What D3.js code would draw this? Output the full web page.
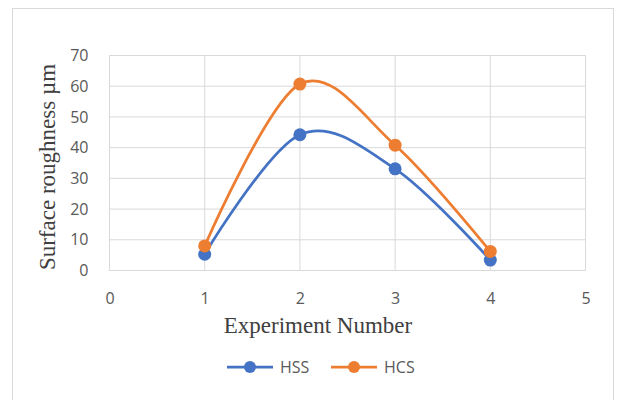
<!DOCTYPE html>
<html>
<head>
<meta charset="utf-8">
<script src="https://cdn.jsdelivr.net/npm/d3@7"></script>
<style>
  html, body { margin: 0; padding: 0; background: #fff; }
  svg { display: block; }
</style>
</head>
<body>
<svg id="chart" width="624" height="400"></svg>
<script>
// Experiment numbers and measured surface roughness (µm) per tool type
const experiments = [1, 2, 3, 4];
const hssValues = [5.3, 44.2, 33.1, 3.4];
const hcsValues = [8.0, 60.7, 40.8, 6.2];
const xTicks = [0, 1, 2, 3, 4, 5];
const yTicks = [0, 10, 20, 30, 40, 50, 60, 70];
const seriesNames = ["HSS", "HCS"];
const seriesColors = ["#4472C4", "#ED7D31"];

const svg = d3.select("#chart");

// Outer chart frame
svg.append("rect")
  .attr("x", 12.5).attr("y", 8.5)
  .attr("width", 601).attr("height", 400)
  .attr("fill", "#fff").attr("stroke", "#d9d9d9").attr("stroke-width", 1);

const x = d3.scaleLinear().domain([0, 5]).range([109.5, 585.5]);
const y = d3.scaleLinear().domain([0, 70]).range([270.5, 55.5]);

// Grid lines
const grid = svg.append("g");
grid.selectAll(".vg").data(xTicks).join("line")
  .attr("x1", d => x(d)).attr("x2", d => x(d))
  .attr("y1", y(0)).attr("y2", y(70))
  .attr("stroke", "#d9d9d9").attr("stroke-width", 1);
grid.selectAll(".hg").data(yTicks).join("line")
  .attr("x1", x(0)).attr("x2", x(5))
  .attr("y1", d => y(d)).attr("y2", d => y(d))
  .attr("stroke", "#d9d9d9").attr("stroke-width", 1);

// Axes (labels only; lines come from the grid)
const xAxis = svg.append("g")
  .attr("transform", `translate(0,${y(0)})`)
  .call(d3.axisBottom(x).tickValues(xTicks).tickFormat(d3.format("d")).tickSize(0).tickPadding(22));
const yAxis = svg.append("g")
  .attr("transform", `translate(${x(0)},0)`)
  .call(d3.axisLeft(y).tickValues(yTicks).tickFormat(d3.format("d")).tickSize(0).tickPadding(21));
[xAxis, yAxis].forEach(a => {
  a.select(".domain").remove();
  a.selectAll("text")
    .attr("fill", "#595959")
    .style("font-family", "'Open Sans', 'Noto Sans', sans-serif")
    .style("font-size", "16px");
});

// Series lines and markers
const series = [hssValues, hcsValues];
const line = d3.line()
  .x((d, i) => x(experiments[i]))
  .y(d => y(d))
  .curve(d3.curveCardinal.tension(0));

series.forEach((vals, s) => {
  svg.append("path")
    .datum(vals)
    .attr("d", line)
    .attr("fill", "none")
    .attr("stroke", seriesColors[s])
    .attr("stroke-width", 2.75)
    .attr("stroke-linecap", "round");
});
series.forEach((vals, s) => {
  svg.append("g").selectAll("circle").data(vals).join("circle")
    .attr("cx", (d, i) => x(experiments[i]))
    .attr("cy", d => y(d))
    .attr("r", 6.5)
    .attr("fill", seriesColors[s]);
});

// Axis titles
svg.append("text")
  .attr("x", 318).attr("y", 333)
  .attr("text-anchor", "middle")
  .attr("fill", "#404040")
  .style("font-family", "'Liberation Serif', 'Times New Roman', serif")
  .style("font-size", "23px")
  .text("Experiment Number");
svg.append("text")
  .attr("transform", `translate(55,167) rotate(-90)`)
  .attr("text-anchor", "middle")
  .attr("fill", "#404040")
  .style("font-family", "'Liberation Serif', 'Times New Roman', serif")
  .style("font-size", "23px")
  .text("Surface roughness µm");

// Legend
const legendX = [227, 331];
const legend = svg.append("g");
seriesNames.forEach((name, s) => {
  const g = legend.append("g").attr("transform", `translate(${legendX[s]},367)`);
  g.append("line").attr("x1", 0).attr("x2", 46).attr("y1", 0).attr("y2", 0)
    .attr("stroke", seriesColors[s]).attr("stroke-width", 2.75);
  g.append("circle").attr("cx", 23).attr("cy", 0).attr("r", 6).attr("fill", seriesColors[s]);
  g.append("text").attr("x", 53).attr("y", 6)
    .attr("fill", "#595959")
    .style("font-family", "'Open Sans', 'Noto Sans', sans-serif")
    .style("font-size", "16px")
    .text(name);
});
</script>
</body>
</html>
